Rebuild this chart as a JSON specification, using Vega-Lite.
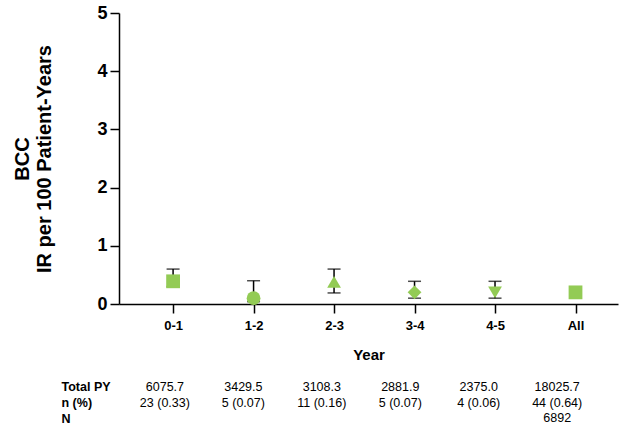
{
  "$schema": "https://vega.github.io/schema/vega-lite/v6.json",
  "padding": {"left": 12, "top": 4, "right": 4, "bottom": 5},
  "background": "white",
  "config": {
    "font": "Liberation Sans",
    "view": {"stroke": null},
    "concat": {"spacing": 17}
  },
  "datasets": {
    "points": [
      {"year": "0-1", "ir": 0.39, "lo": 0.3, "hi": 0.6, "shape": "square"},
      {"year": "1-2", "ir": 0.1, "lo": 0.04, "hi": 0.4, "shape": "circle"},
      {"year": "2-3", "ir": 0.38, "lo": 0.19, "hi": 0.6, "shape": "triangle-up"},
      {"year": "3-4", "ir": 0.2, "lo": 0.1, "hi": 0.39, "shape": "diamond"},
      {"year": "4-5", "ir": 0.2, "lo": 0.1, "hi": 0.39, "shape": "triangle-down"},
      {"year": "All", "ir": 0.2, "lo": 0.15, "hi": 0.27, "shape": "square"}
    ],
    "table": [
      {"year": "0-1", "row": "Total PY", "text": "6075.7"},
      {"year": "1-2", "row": "Total PY", "text": "3429.5"},
      {"year": "2-3", "row": "Total PY", "text": "3108.3"},
      {"year": "3-4", "row": "Total PY", "text": "2881.9"},
      {"year": "4-5", "row": "Total PY", "text": "2375.0"},
      {"year": "All", "row": "Total PY", "text": "18025.7"},
      {"year": "0-1", "row": "n (%)", "text": "23 (0.33)"},
      {"year": "1-2", "row": "n (%)", "text": "5 (0.07)"},
      {"year": "2-3", "row": "n (%)", "text": "11 (0.16)"},
      {"year": "3-4", "row": "n (%)", "text": "5 (0.07)"},
      {"year": "4-5", "row": "n (%)", "text": "4 (0.06)"},
      {"year": "All", "row": "n (%)", "text": "44 (0.64)"},
      {"year": "All", "row": "N", "text": "6892"}
    ]
  },
  "resolve": {"scale": {"x": "independent"}},
  "vconcat": [
    {
      "width": 499,
      "height": 291,
      "data": {"name": "points"},
      "encoding": {
        "x": {
          "field": "year", "type": "nominal",
          "scale": {"type": "point", "domain": ["0-1", "1-2", "2-3", "3-4", "4-5", "All"], "padding": 0.6, "align": 0.56},
          "axis": {
            "title": "Year", "labelAngle": 0, "labelFontSize": 13, "labelFontWeight": "bold", "labelColor": "black",
            "labelPadding": 6, "tickSize": 9, "tickWidth": 1.5, "tickColor": "black", "domainColor": "black", "domainWidth": 1.5,
            "titleFontSize": 15, "titleFontWeight": "bold", "titleColor": "black", "titlePadding": 15, "grid": false
          }
        }
      },
      "layer": [
        {
          "mark": {"type": "rule", "color": "black", "strokeWidth": 1.5},
          "encoding": {
            "y": {"field": "lo", "type": "quantitative", "scale": {"domain": [0, 5], "nice": false},
              "axis": {
                "title": ["BCC", "IR per 100 Patient-Years"], "values": [0, 1, 2, 3, 4, 5], "format": "d", "grid": false,
                "labelFontSize": 18, "labelFontWeight": "bold", "labelColor": "black", "labelPadding": 3,
                "tickSize": 9, "tickWidth": 1.5, "tickColor": "black", "domainColor": "black", "domainWidth": 1.5,
                "titleFontSize": 20, "titleFontWeight": "bold", "titleColor": "black", "titlePadding": 42, "titleLineHeight": 22
              }
            },
            "y2": {"field": "hi"}
          }
        },
        {
          "mark": {"type": "tick", "color": "black", "size": 13, "thickness": 1.5},
          "encoding": {"y": {"field": "hi", "type": "quantitative"}}
        },
        {
          "mark": {"type": "tick", "color": "black", "size": 13, "thickness": 1.5},
          "encoding": {"y": {"field": "lo", "type": "quantitative"}}
        },
        {
          "mark": {"type": "point", "filled": true, "opacity": 1, "size": 190, "color": "#93CB55"},
          "encoding": {
            "y": {"field": "ir", "type": "quantitative"},
            "shape": {"field": "shape", "type": "nominal", "scale": null, "legend": null}
          }
        }
      ]
    },
    {
      "width": 499,
      "height": 47,
      "data": {"name": "table"},
      "mark": {"type": "text", "fontSize": 12.5, "color": "black", "baseline": "middle"},
      "encoding": {
        "x": {
          "field": "year", "type": "nominal",
          "scale": {"type": "point", "domain": ["0-1", "1-2", "2-3", "3-4", "4-5", "All"], "padding": 0.68, "align": 0.43},
          "axis": null
        },
        "y": {
          "field": "row", "type": "nominal",
          "scale": {"domain": ["Total PY", "n (%)", "N"], "paddingInner": 0, "paddingOuter": 0},
          "axis": {
            "title": null, "domain": false, "ticks": false, "labelAlign": "left", "labelPadding": 58,
            "labelFontSize": 12.5, "labelFontWeight": "bold", "labelColor": "black"
          }
        },
        "text": {"field": "text", "type": "nominal"}
      }
    }
  ]
}
